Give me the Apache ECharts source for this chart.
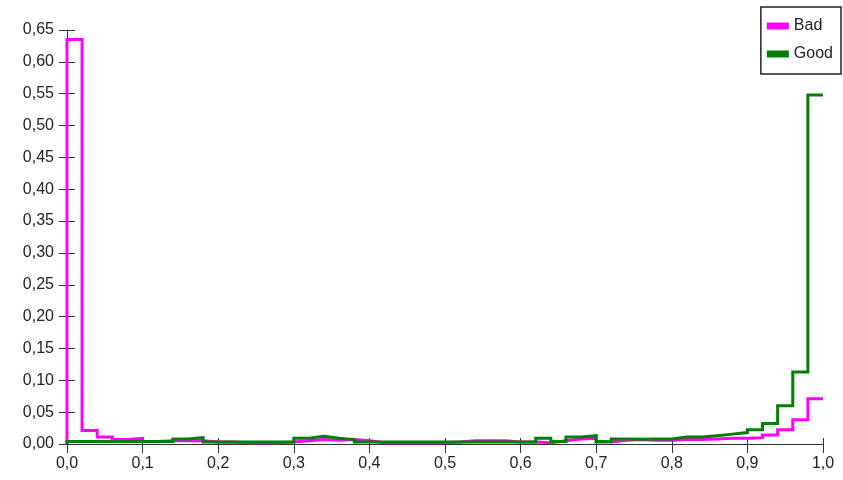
<!DOCTYPE html>
<html>
<head>
<meta charset="utf-8">
<script src="https://cdn.jsdelivr.net/npm/echarts@6/dist/echarts.min.js"></script>
<style>
html,body{margin:0;padding:0;background:#fff;}
#chart{width:843px;height:480px;}
</style>
</head>
<body>
<div id="chart"></div>
<script>
// Histogram bins: 50 bins of width 0.02 from 0 to 1
const binWidth = 0.02;
const seriesNames = ['Bad', 'Good'];
const badValues = [
  0.635, 0.021, 0.011, 0.007, 0.009, 0.004, 0.005, 0.005, 0.005, 0.003,
  0.003, 0.002, 0.002, 0.002, 0.003, 0.005, 0.007, 0.006, 0.007, 0.005,
  0.002, 0.002, 0.002, 0.002, 0.002, 0.003, 0.005, 0.005, 0.005, 0.003,
  0.003, 0.002, 0.005, 0.008, 0.009, 0.003, 0.006, 0.007, 0.006, 0.006,
  0.007, 0.007, 0.008, 0.009, 0.009, 0.010, 0.014, 0.0225, 0.038, 0.071
];
const goodValues = [
  0.004, 0.004, 0.004, 0.004, 0.004, 0.004, 0.004, 0.008, 0.010, 0.003,
  0.003, 0.003, 0.003, 0.003, 0.003, 0.009, 0.012, 0.009, 0.007, 0.003,
  0.003, 0.003, 0.003, 0.003, 0.003, 0.003, 0.003, 0.003, 0.003, 0.003,
  0.003, 0.009, 0.004, 0.011, 0.013, 0.004, 0.008, 0.0075, 0.008, 0.008,
  0.011, 0.011, 0.013, 0.0155, 0.018, 0.0225, 0.032, 0.060, 0.113, 0.548
];

// Build a step outline: rise at left edge, flat across each bin
function stepData(values) {
  const pts = [[0, 0]];
  values.forEach(function (v, i) {
    pts.push([i * binWidth, v]);
    pts.push([(i + 1) * binWidth, v]);
  });
  return pts;
}

const font = '"Liberation Sans", Arial, sans-serif';
const axisColor = '#333';
const chart = echarts.init(document.getElementById('chart'), null, {renderer: 'canvas'});

const xCommon = {type: 'value', min: 0, max: 1, interval: 0.1};
const yCommon = {type: 'value', min: 0, max: 0.65, interval: 0.05};

chart.setOption({
  animation: false,
  backgroundColor: '#fff',
  grid: {left: 67, right: 20, top: 30, bottom: 36, containLabel: false},
  legend: {
    data: seriesNames,
    orient: 'vertical',
    right: 2,
    top: 7,
    icon: 'rect',
    itemWidth: 22,
    itemHeight: 7,
    itemGap: 12,
    itemTextGap: 5,
    padding: [11, 8, 12, 6],
    borderColor: '#222',
    borderWidth: 1.5,
    borderRadius: 0,
    backgroundColor: '#fff',
    textStyle: {fontFamily: font, fontSize: 16, color: '#222'}
  },
  xAxis: [
    Object.assign({}, xCommon, {
      position: 'bottom',
      axisLine: {show: true, lineStyle: {color: axisColor, width: 1}},
      axisTick: {show: true, inside: false, length: 9, lineStyle: {color: axisColor}},
      splitLine: {show: false},
      axisLabel: {
        margin: 12, fontFamily: font, fontSize: 16, color: '#222',
        formatter: function (v) { return v.toFixed(1).replace('.', ','); }
      }
    }),
    Object.assign({}, xCommon, {
      position: 'bottom',
      axisLine: {show: false},
      axisTick: {show: true, inside: true, length: 6, lineStyle: {color: axisColor}},
      splitLine: {show: false},
      axisLabel: {show: false}
    })
  ],
  yAxis: [
    Object.assign({}, yCommon, {
      position: 'left',
      axisLine: {show: true, lineStyle: {color: axisColor, width: 1}},
      axisTick: {show: true, inside: false, length: 8, lineStyle: {color: axisColor}},
      splitLine: {show: false},
      axisLabel: {
        margin: 13, fontFamily: font, fontSize: 16, color: '#222',
        formatter: function (v) { return v.toFixed(2).replace('.', ','); }
      }
    }),
    Object.assign({}, yCommon, {
      position: 'left',
      axisLine: {show: false},
      axisTick: {show: true, inside: true, length: 8, lineStyle: {color: axisColor}},
      splitLine: {show: false},
      axisLabel: {show: false}
    })
  ],
  series: [
    {
      name: 'Bad', type: 'line',
      data: stepData(badValues),
      showSymbol: false, symbol: 'none', sampling: null,
      lineStyle: {color: '#ff00ff', width: 3, join: 'miter', cap: 'butt'},
      itemStyle: {color: '#ff00ff'},
      clip: false
    },
    {
      name: 'Good', type: 'line',
      data: stepData(goodValues),
      showSymbol: false, symbol: 'none', sampling: null,
      lineStyle: {color: '#008000', width: 3, join: 'miter', cap: 'butt'},
      itemStyle: {color: '#008000'},
      clip: false
    }
  ]
});
</script>
</body>
</html>
